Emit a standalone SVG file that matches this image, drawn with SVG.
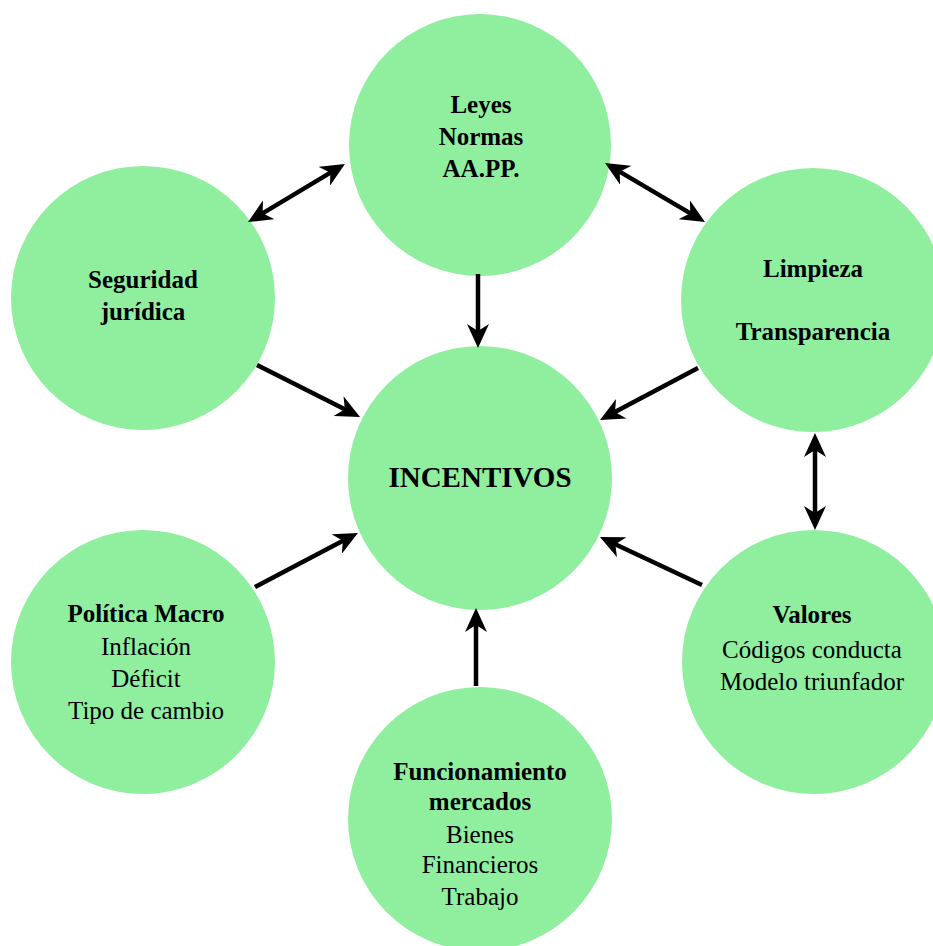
<svg xmlns="http://www.w3.org/2000/svg" width="933" height="946" viewBox="0 0 933 946">
<style>
.node{fill:#8FEF9F}
text{font-family:"Liberation Serif","Times New Roman",serif;font-size:25px;fill:#000;text-anchor:middle}
.b{font-weight:bold}
.big{font-size:29px;font-weight:bold}
.c{stroke:#000;stroke-width:4.5;fill:none}
</style>
<defs>
<marker id="ah" viewBox="0 0 24 22" refX="13" refY="11" markerWidth="24" markerHeight="22" markerUnits="userSpaceOnUse" orient="auto-start-reverse">
<path d="M0,0 L24,11 L0,22 L7,11 z" fill="#000"/>
</marker>
</defs>
<rect width="933" height="946" fill="#fff"/>
<g id="n-leyes"><circle class="node" cx="480" cy="145" r="131"/>
<text class="b" x="481" y="113">Leyes</text><text class="b" x="481" y="145">Normas</text><text class="b" x="481" y="177">AA.PP.</text></g>
<g id="n-seguridad"><circle class="node" cx="143" cy="298" r="132"/>
<text class="b" x="143" y="288">Seguridad</text><text class="b" x="143" y="320">jurídica</text></g>
<g id="n-limpieza"><circle class="node" cx="813" cy="300" r="132"/>
<text class="b" x="813" y="277">Limpieza</text><text class="b" x="813" y="340">Transparencia</text></g>
<g id="n-incentivos"><circle class="node" cx="480" cy="478" r="132"/>
<text class="big" x="480" y="487">INCENTIVOS</text></g>
<g id="n-politica"><circle class="node" cx="143" cy="662" r="132"/>
<text class="b" x="146" y="622">Política Macro</text><text x="146" y="655">Inflación</text><text x="146" y="687">Déficit</text><text x="146" y="719">Tipo de cambio</text></g>
<g id="n-valores"><circle class="node" cx="814" cy="662" r="132"/>
<text class="b" x="812" y="623">Valores</text><text x="812" y="658">Códigos conducta</text><text x="812" y="690">Modelo triunfador</text></g>
<g id="n-mercados"><circle class="node" cx="480" cy="819" r="132"/>
<text class="b" x="480" y="780">Funcionamiento</text><text class="b" x="480" y="810">mercados</text><text x="480" y="843">Bienes</text><text x="480" y="873">Financieros</text><text x="480" y="905">Trabajo</text></g>
<g id="connectors">
<line class="c" x1="257.5" y1="216.4" x2="335.5" y2="169.6" marker-start="url(#ah)" marker-end="url(#ah)"/>
<line class="c" x1="614.5" y1="168.6" x2="695.5" y2="216.4" marker-start="url(#ah)" marker-end="url(#ah)"/>
<line class="c" x1="478" y1="274" x2="478" y2="337" marker-end="url(#ah)"/>
<line class="c" x1="257" y1="365" x2="350.2" y2="412" marker-end="url(#ah)"/>
<line class="c" x1="698" y1="368" x2="609.7" y2="414.8" marker-end="url(#ah)"/>
<line class="c" x1="815" y1="444" x2="815" y2="519" marker-start="url(#ah)" marker-end="url(#ah)"/>
<line class="c" x1="255" y1="587" x2="348.2" y2="538" marker-end="url(#ah)"/>
<line class="c" x1="702" y1="585" x2="609.9" y2="541.7" marker-end="url(#ah)"/>
<line class="c" x1="476" y1="686" x2="476" y2="619" marker-end="url(#ah)"/>
</g>
</svg>
